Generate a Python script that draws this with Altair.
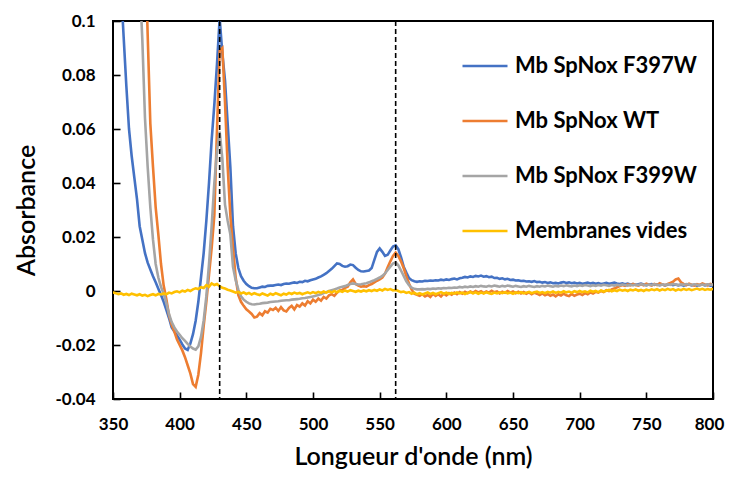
import altair as alt
import pandas as pd

# x grid (nm), every 2 nm
wavelengths = list(range(350, 801, 2))

series_names = ["Mb SpNox F397W", "Mb SpNox WT", "Mb SpNox F399W", "Membranes vides"]
series_colors = ["#4472C4", "#ED7D31", "#A5A5A5", "#FFC000"]

# Absorbance values in milli-absorbance units (x 0.001), one per wavelength
f397w = [
    175, 155, 135, 112, 94, 76, 60, 50, 42, 34,                 # 350
    24, 19, 14, 10.5, 8, 5.5, 3.2, 0.8, -1.5, -4,               # 370
    -7, -10, -13.5, -15, -16.5, -18, -19.8, -21.3, -21.8, -19.5,  # 390
    -16, -11, -4, 5, 14, 26, 40, 56, 69, 84,                    # 410
    101, 88, 78, 62, 46, 24, 14, 8.5, 5.5, 3.8,                 # 430
    2.6, 1.8, 1.2, 1.0, 1.0, 1.3, 1.6, 1.5, 1.9, 2.0,           # 450
    2.0, 2.2, 2.4, 2.2, 2.6, 2.8, 2.7, 3.0, 3.2, 3.0,           # 470
    3.4, 3.3, 3.8, 3.6, 4.0, 4.3, 4.5, 5.0, 5.4, 6.0,           # 490
    6.6, 7.4, 8.2, 9.2, 10.2, 10.0, 9.3, 9.0, 9.2, 9.8,         # 510
    9.6, 8.6, 7.8, 7.3, 7.2, 7.4, 7.6, 8.5, 11.5, 14.5,         # 530
    15.8, 14.5, 13.0, 13.4, 15.0, 16.5, 16.9, 15.5, 12.5, 9.0,  # 550
    6.8, 4.8, 4.0, 3.6, 3.4, 3.6, 3.5, 3.8, 3.7, 3.9,           # 570
    3.8, 4.0, 3.9, 4.2, 4.0, 4.3, 4.1, 4.4, 4.6, 4.3,           # 590
    4.7, 4.9, 5.2, 5.0, 5.4, 5.2, 5.6, 5.4, 5.7, 5.3,           # 610
    5.5, 5.1, 5.3, 4.8, 4.9, 4.5, 4.7, 4.3, 4.5, 4.1,           # 630
    4.2, 3.9, 4.0, 3.7, 3.8, 3.5, 3.6, 3.4, 3.7, 3.3,           # 650
    3.4, 3.1, 3.3, 3.0, 3.2, 2.9, 3.0, 2.8, 3.1, 3.3,           # 670
    3.0, 3.2, 2.9, 3.1, 2.8, 3.0, 2.7, 2.9, 3.1, 2.8,           # 690
    3.0, 2.7, 2.9, 2.6, 2.8, 3.0, 2.7, 2.9, 3.1, 2.8,           # 710
    2.6, 2.8, 2.5, 2.7, 2.4, 2.6, 2.3, 2.5, 2.7, 2.4,           # 730
    2.2, 2.4, 2.6, 2.3, 2.5, 2.2, 2.4, 2.1, 2.3, 2.5,           # 750
    2.2, 2.4, 2.1, 2.3, 2.0, 2.2, 2.4, 2.1, 2.3, 2.0,           # 770
    2.2, 2.4, 2.1, 2.3, 2.0, 2.1,                               # 790-800
]

wt = [
    300, 290, 280, 270, 260, 250, 240, 225, 210, 195,           # 350
    178, 160, 130, 95, 62, 46, 31, 21, 10, 2,                   # 370
    -3, -9, -12.5, -15, -18, -20, -22, -24.5, -27.5, -30.5,     # 390
    -34.5, -35.5, -31, -23, -13, -4, 6, 16, 28, 60,             # 410
    89, 90, 70, 46, 28, 16, 5, -1.5, -4, -5.5,                  # 430
    -6.8, -7.6, -8.5, -9.8, -9.5, -8.2, -9.0, -7.5, -8.0, -6.6,  # 450
    -7.0, -6.2, -7.4, -6.0, -7.2, -7.6, -6.3, -5.5, -6.8, -5.2,  # 470
    -5.8, -4.6, -5.4, -3.8, -4.6, -3.2, -4.0, -2.8, -3.6, -2.2,  # 490
    -2.8, -1.6, -1.2, -1.8, -0.6, 0.2, 0.4, 1.2, 1.6, 3.2,      # 510
    4.3, 2.6, 2.0, 1.6, 1.8, 1.6, 2.2, 2.6, 3.2, 3.8,           # 530
    4.3, 5.0, 6.4, 8.8, 11.0, 13.0, 14.2, 13.0, 11.0, 8.5,      # 550
    5.5, 2.8, 0.5, -1.0, -1.4, -1.8, -1.2, -2.0, -1.5, -2.2,    # 570
    -1.0, -1.8, -1.2, -2.0, -1.0, -1.6, -0.8, -1.4, -0.6, -1.2,  # 590
    -0.4, -1.0, -0.3, -0.8, -0.2, -0.7, 0.0, -0.5, -0.1, -0.8,  # 610
    -0.2, -0.6, 0.1, -0.5, -0.2, -0.9, -0.3, -0.7, 0.0, -0.6,   # 630
    -0.2, -0.8, -0.3, -0.9, -0.4, -1.0, -0.5, -1.2, -0.6, -1.0,  # 650
    -1.5, -0.9, -1.6, -1.1, -1.8, -1.3, -2.0, -1.2, -1.7, -1.0,  # 670
    -1.6, -1.9, -1.1, -1.8, -1.3, -1.0, -1.5, -0.8, -1.2, -0.5,  # 690
    -0.9, -0.3, -0.6, 0.0, -0.4, 0.3, 0.0, 0.6, 0.9, 1.4,       # 710
    1.8, 2.2, 1.9, 2.4, 2.1, 2.6, 2.2, 2.0, 2.5, 2.1,           # 730
    2.7, 2.3, 2.0, 2.6, 2.2, 2.9, 2.4, 2.1, 2.6, 3.0,           # 750
    3.4, 4.3, 4.6, 3.2, 2.6, 2.2, 2.7, 2.3, 2.0, 2.5,           # 770
    2.2, 2.8, 2.4, 2.1, 2.6, 2.3,                               # 790-800
]

f399w = [
    260, 240, 222, 205, 190, 176, 163, 150, 138, 126,           # 350
    115, 93, 64, 46, 31, 19, 10, 5, 1.5, -1,                    # 370
    -4.5, -8.5, -11.5, -13.5, -15.0, -16.2, -17.5, -18.5, -19.6, -20.6,  # 390
    -21.3, -21.7, -20.5, -17, -11, -2, 10, 24, 40, 52,          # 410
    59, 49, 32, 26, 21, 9, 4, 0.5, -2.0, -3.2,                  # 430
    -4.0, -4.6, -4.9, -5.0, -4.8, -4.7, -4.5, -4.4, -4.3, -4.1,  # 450
    -4.0, -3.9, -3.8, -3.6, -3.5, -3.4, -3.4, -3.2, -3.1, -3.0,  # 470
    -2.9, -2.7, -2.6, -2.4, -2.2, -2.0, -1.8, -1.5, -1.2, -0.8,  # 490
    -0.4, 0.0, 0.3, 0.6, 0.9, 1.3, 1.6, 1.8, 2.2, 2.6,          # 510
    2.8, 2.6, 2.4, 2.5, 2.7, 2.9, 3.2, 3.6, 4.0, 4.5,           # 530
    5.0, 5.6, 6.5, 7.8, 9.0, 10.2, 10.6, 9.5, 7.6, 5.6,         # 550
    3.6, 2.2, 1.2, 0.8, 0.6, 0.6, 0.7, 0.6, 0.8, 0.7,           # 570
    0.9, 0.8, 1.0, 0.9, 1.1, 1.0, 1.2, 1.1, 1.3, 1.2,           # 590
    1.5, 1.3, 1.6, 1.4, 1.7, 1.5, 1.8, 1.6, 1.9, 1.7,           # 610
    1.6, 1.9, 1.7, 2.0, 1.8, 1.6, 1.9, 1.7, 2.0, 1.8,           # 630
    1.6, 1.9, 1.7, 1.5, 1.8, 1.6, 1.9, 1.7, 1.5, 1.8,           # 650
    1.6, 1.9, 1.7, 2.0, 1.8, 1.6, 1.9, 1.7, 2.0, 1.8,           # 670
    2.1, 1.9, 1.7, 2.0, 1.8, 2.1, 1.9, 2.2, 2.0, 1.8,           # 690
    2.1, 1.9, 2.2, 2.0, 2.3, 2.1, 1.9, 2.2, 2.0, 2.3,           # 710
    2.1, 2.4, 2.2, 2.0, 2.3, 2.1, 2.4, 2.2, 2.5, 2.3,           # 730
    2.1, 2.4, 2.2, 2.5, 2.3, 2.1, 2.4, 2.2, 2.5, 2.3,           # 750
    2.6, 2.4, 2.2, 2.5, 2.3, 2.6, 2.4, 2.2, 2.5, 2.3,           # 770
    2.1, 2.4, 2.2, 2.5, 2.3, 2.4,                               # 790-800
]

membranes = [
    -0.5, -0.8, -1.2, -0.9, -1.4, -1.1, -1.5, -1.0, -1.3, -1.6,  # 350
    -1.2, -1.7, -1.4, -1.9, -1.5, -1.2, -1.6, -1.1, -1.3, -0.9,  # 370
    -1.2, -0.6, -0.9, -0.4, -0.1, -0.5, 0.1, -0.2, 0.4, 0.0,    # 390
    0.6, 1.0, 0.7, 1.4, 1.1, 2.2, 1.6, 2.8, 2.2, 2.6,           # 410
    1.8, 1.2, 0.9, 0.5, 0.2, -0.2, -0.6, -0.3, -0.9, -0.5,      # 430
    -1.1, -0.7, -1.3, -0.8, -1.2, -1.5, -0.9, -1.3, -1.7, -1.0,  # 450
    -1.4, -0.8, -1.2, -1.6, -1.0, -1.3, -0.7, -1.1, -0.6, -1.0,  # 470
    -0.7, -1.2, -0.8, -0.5, -0.9, -0.4, -0.8, -0.3, -0.7, -0.2,  # 490
    -0.6, -0.1, -0.5, 0.0, -0.4, 0.1, -0.3, 0.2, -0.2, 0.3,     # 510
    0.0, -0.3, 0.1, -0.2, 0.2, -0.1, 0.3, 0.0, 0.4, 0.1,        # 530
    0.6, 0.2, 0.8, 0.4, 0.7, 0.2, 0.4, 0.0, -0.4, -0.2,         # 550
    -0.7, -0.4, -1.0, -0.6, -1.2, -0.8, -1.3, -0.9, -0.5, -1.1,  # 570
    -0.7, -1.2, -0.8, -0.4, -1.0, -0.6, -1.1, -0.7, -1.0, -0.5,  # 590
    -0.9, -0.6, -1.1, -0.7, -0.4, -0.9, -0.5, -1.0, -0.6, -0.9,  # 610
    -0.5, -0.8, -1.1, -0.6, -0.9, -0.5, -0.8, -0.4, -0.9, -0.6,  # 630
    -1.0, -0.5, -0.8, -0.4, -0.9, -0.6, -0.3, -0.8, -0.5, -0.2,  # 650
    -0.7, -0.4, -0.8, -0.3, -0.6, -0.2, -0.7, -0.3, -0.6, -0.1,  # 670
    -0.5, -0.2, -0.6, -0.1, -0.4, 0.0, -0.4, -0.1, -0.5, 0.1,   # 690
    -0.3, 0.0, -0.4, 0.2, -0.2, 0.1, 0.4, -0.1, 0.3, 0.0,       # 710
    0.5, 0.1, 0.4, 0.0, 0.5, 0.2, 0.6, 0.1, 0.4, 0.0,           # 730
    0.5, 0.2, 0.6, 0.3, 0.7, 0.2, 0.6, 0.3, 0.8, 0.4,           # 750
    0.7, 0.2, 0.6, 0.3, 0.8, 0.4, 0.7, 0.3, 0.6, 0.9,           # 770
    0.5, 0.8, 0.4, 0.7, 0.5, 0.8,                               # 790-800
]

x_ticks = [350, 400, 450, 500, 550, 600, 650, 700, 750, 800]
y_ticks = [-0.04, -0.02, 0, 0.02, 0.04, 0.06, 0.08, 0.1]
marker_wavelengths = [430, 562]

# ---- build long table ----
rows = []
for k, (name, vals) in enumerate(zip(series_names, [f397w, wt, f399w, membranes])):
    for w, v in zip(wavelengths, vals):
        rows.append({"wl": w, "absorb": v / 1000.0, "series": name, "k": k})
df = pd.DataFrame(rows)

FONT = "Lato"
W, H = 600, 378
TICK = 7  # tick length; axes are pulled inside by this amount so ticks point inward

x_scale = alt.Scale(domain=[350, 800], nice=False, zero=False)
y_scale = alt.Scale(domain=[-0.04, 0.1], nice=False, zero=False)

x_axis = alt.Axis(
    values=x_ticks, format="d", title="Longueur d'onde (nm)", offset=-TICK,
    labelOffset={"condition": {"test": "datum.value >= 800", "value": -4}, "value": 0},
)
y_axis = alt.Axis(
    values=y_ticks, title="Absorbance", offset=-TICK,
    labelExpr="replace(format(datum.value, '~g'), '\u2212', '-')",
)

lines = alt.Chart(df).mark_line(strokeWidth=2.6, clip=True).encode(
    x=alt.X("wl:Q", scale=x_scale, axis=x_axis),
    y=alt.Y("absorb:Q", scale=y_scale, axis=y_axis),
    color=alt.Color("series:N",
                    scale=alt.Scale(domain=series_names, range=series_colors),
                    sort=series_names,
                    legend=alt.Legend(orient="none", legendX=348, legendY=21, title=None,
                                      symbolType="stroke", symbolSize=2025,
                                      symbolStrokeWidth=2.6, labelFont=FONT,
                                      labelFontSize=22, labelFontWeight="bold",
                                      labelColor="black", labelOffset=6, labelLimit=400,
                                      rowPadding=20, padding=0)),
)

marker_df = pd.DataFrame({"wl": marker_wavelengths})
markers = alt.Chart(marker_df).mark_rule(color="black", strokeWidth=1.6,
                                         strokeDash=[5, 3]).encode(
    x=alt.X("wl:Q", scale=x_scale, axis=x_axis),
)

chart = alt.layer(lines, markers).properties(
    width=W,
    height=H,
    autosize=alt.AutoSizeParams(type="none"),
    padding={"left": 105, "top": 13, "right": 12, "bottom": 70},
    background="white",
).configure_view(
    stroke="black",
    strokeWidth=2,
).configure_axis(
    labelFont=FONT, labelFontSize=17, labelFontWeight="bold", labelColor="black",
    ticks=True, tickSize=TICK, tickColor="black", tickWidth=1.6, tickOpacity=1,
    domain=False, grid=False, labelFlush=False, zindex=1,
    titleFont=FONT, titleFontSize=25, titleFontWeight=600, titleColor="black",
).configure_axisX(
    labelPadding=17, titlePadding=12,
).configure_axisY(
    labelPadding=18, titlePadding=16,
)

chart.save("out.html", embed_options={"renderer": "svg", "actions": False})
